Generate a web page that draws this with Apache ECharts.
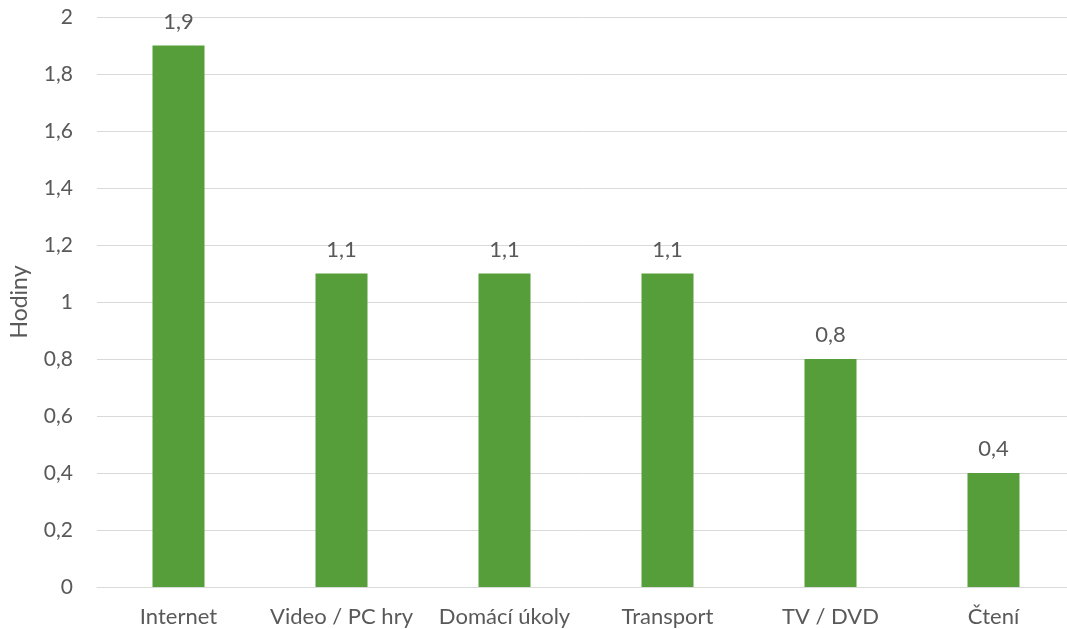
<!DOCTYPE html>
<html>
<head>
<meta charset="utf-8">
<script src="https://cdn.jsdelivr.net/npm/echarts@6/dist/echarts.min.js"></script>
<style>
  html, body { margin: 0; padding: 0; background: #fff; }
  #chart { width: 1067px; height: 629px; }
</style>
</head>
<body>
<div id="chart"></div>
<script>
// Average hours per activity
const categories = ['Internet', 'Video / PC hry', 'Domácí úkoly', 'Transport', 'TV / DVD', 'Čtení'];
const hours = [1.9, 1.1, 1.1, 1.1, 0.8, 0.4];
const yTicks = [0, 0.2, 0.4, 0.6, 0.8, 1, 1.2, 1.4, 1.6, 1.8, 2];

const fmt = v => String(v).replace('.', ',');
const textColor = '#595959';
const font = 'Lato';

const chart = echarts.init(document.getElementById('chart'), null, { renderer: 'canvas' });
chart.setOption({
  animation: false,
  grid: { left: 97, top: 17, bottom: 42, width: 978, containLabel: false, outerBoundsMode: 'none' },
  xAxis: {
    type: 'category',
    data: categories,
    axisLine: { lineStyle: { color: '#d9d9d9', width: 1 } },
    axisTick: { show: false },
    axisLabel: { color: textColor, fontFamily: font, fontSize: 22, margin: 19, interval: 0 }
  },
  yAxis: {
    type: 'value',
    min: 0,
    max: 2,
    interval: 0.2,
    name: 'Hodiny',
    nameLocation: 'middle',
    nameGap: 66,
    nameTextStyle: { color: textColor, fontFamily: font, fontSize: 23 },
    axisLine: { show: false },
    axisTick: { show: false },
    splitLine: { lineStyle: { color: '#d9d9d9', width: 1 } },
    axisLabel: {
      color: textColor, fontFamily: font, fontSize: 21, margin: 24,
      formatter: v => {
        const t = yTicks.find(x => Math.abs(x - v) < 1e-9);
        return fmt(t !== undefined ? t : Math.round(v * 10) / 10);
      }
    }
  },
  series: [{
    type: 'bar',
    data: hours,
    barWidth: 52,
    itemStyle: { color: '#559e3a' },
    label: {
      show: true,
      position: 'top',
      distance: 13,
      color: textColor,
      fontFamily: font,
      fontSize: 22,
      formatter: p => fmt(p.value)
    }
  }]
});
</script>
</body>
</html>
